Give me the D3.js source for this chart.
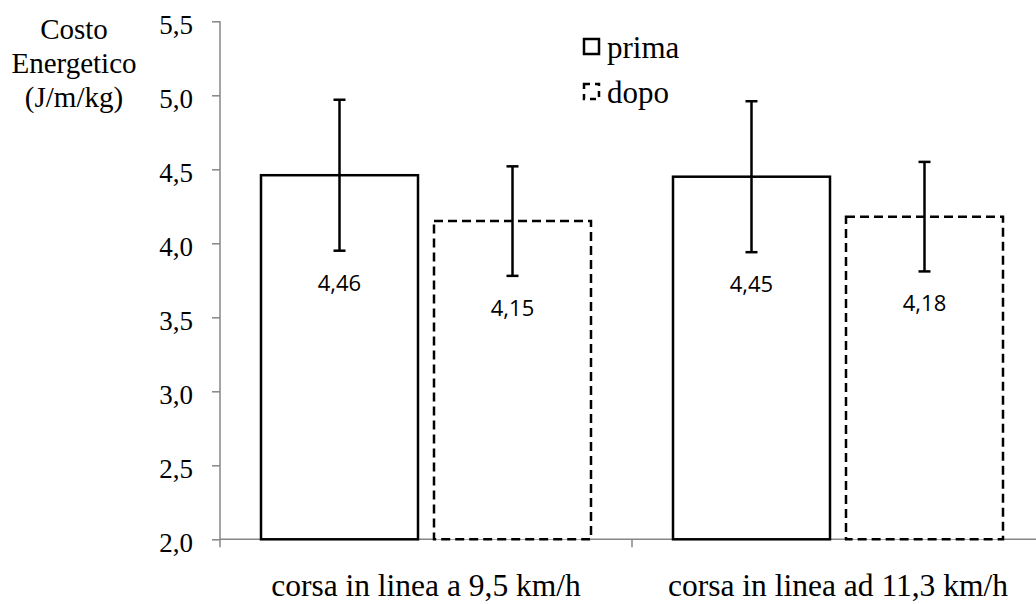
<!DOCTYPE html>
<html>
<head>
<meta charset="utf-8">
<script src="https://cdn.jsdelivr.net/npm/d3@7"></script>
<style>
  html, body { margin: 0; padding: 0; background: #fff; }
  svg { display: block; }
</style>
</head>
<body>
<svg id="chart" width="1036" height="604"></svg>
<script>
// Energy cost of in-line running, before ("prima") and after ("dopo")
const categories = ["corsa in linea a 9,5 km/h", "corsa in linea ad 11,3 km/h"];
const seriesNames = ["prima", "dopo"];
const primaValues = [4.46, 4.45];
const dopoValues = [4.15, 4.18];
const primaErrors = [0.51, 0.51];
const dopoErrors = [0.37, 0.37];
const yTicks = [2.0, 2.5, 3.0, 3.5, 4.0, 4.5, 5.0, 5.5];
const yTitle = ["Costo", "Energetico", "(J/m/kg)"];

const values = [primaValues, dopoValues];
const errors = [primaErrors, dopoErrors];
const rows = [];
categories.forEach((c, ci) => {
  seriesNames.forEach((s, si) => {
    rows.push({ cat: c, series: s, value: values[si][ci], err: errors[si][ci] });
  });
});

const svg = d3.select("#chart");
const serif = "'Liberation Serif', 'Times New Roman', serif";
const sans = "'Open Sans', 'Noto Sans', sans-serif";
const axisColor = "#868686";

const plot = { left: 220, right: 1044, top: 21.3, bottom: 539.3 };

const y = d3.scaleLinear().domain([2.0, 5.5]).range([plot.bottom, plot.top]);
const x0 = d3.scaleBand().domain(categories).range([plot.left, plot.right]).paddingInner(0).paddingOuter(0);
const x1 = d3.scaleBand().domain(seriesNames).range([0, x0.bandwidth()])
  .paddingInner(0.0925).paddingOuter(0.237);

const dashFor = s => s === "dopo" ? "9,5" : null;

// Y axis
const yAxis = d3.axisLeft(y).tickValues(yTicks).tickSize(8).tickSizeOuter(0)
  .tickFormat(d => d3.format(".1f")(d).replace(".", ","));
const gy = svg.append("g").attr("transform", `translate(${plot.left},0)`).call(yAxis);
gy.select(".domain").remove();
gy.append("line").attr("x1", 0).attr("x2", 0).attr("y1", y(5.5)).attr("y2", plot.bottom + 8)
  .attr("stroke", axisColor).attr("stroke-width", 1.5);
gy.selectAll(".tick line").attr("stroke", axisColor).attr("stroke-width", 1.5);
gy.selectAll(".tick text")
  .attr("font-family", serif).attr("font-size", 27).attr("fill", "#000")
  .attr("x", -27).attr("dy", 12);

// X axis (category boundaries as ticks)
svg.append("line").attr("x1", plot.left).attr("x2", plot.right)
  .attr("y1", plot.bottom).attr("y2", plot.bottom)
  .attr("stroke", axisColor).attr("stroke-width", 1.5);
const bounds = categories.map(c => x0(c)).concat([x0(categories[categories.length - 1]) + x0.bandwidth()]);
svg.selectAll(".xtick").data(bounds.slice(1)).enter().append("line")
  .attr("x1", d => d).attr("x2", d => d)
  .attr("y1", plot.bottom).attr("y2", plot.bottom + 8)
  .attr("stroke", axisColor).attr("stroke-width", 1.5);
svg.selectAll(".xlabel").data(categories).enter().append("text")
  .attr("x", d => x0(d) + x0.bandwidth() / 2).attr("y", 596)
  .attr("text-anchor", "middle").attr("font-family", serif).attr("font-size", 31.5)
  .text(d => d);

// Bars
svg.selectAll(".bar").data(rows).enter().append("rect")
  .attr("x", d => x0(d.cat) + x1(d.series))
  .attr("y", d => y(d.value))
  .attr("width", x1.bandwidth())
  .attr("height", d => y(2.0) - y(d.value))
  .attr("fill", "#fff").attr("stroke", "#000").attr("stroke-width", 2.5)
  .attr("stroke-dasharray", d => dashFor(d.series));

// Error bars
const cap = 6;
const eb = svg.selectAll(".err").data(rows).enter().append("g")
  .attr("stroke", "#000").attr("stroke-width", 2.5);
eb.append("line")
  .attr("x1", d => x0(d.cat) + x1(d.series) + x1.bandwidth() / 2)
  .attr("x2", d => x0(d.cat) + x1(d.series) + x1.bandwidth() / 2)
  .attr("y1", d => y(d.value + d.err)).attr("y2", d => y(d.value - d.err));
[1, -1].forEach(sign => {
  eb.append("line")
    .attr("x1", d => x0(d.cat) + x1(d.series) + x1.bandwidth() / 2 - cap)
    .attr("x2", d => x0(d.cat) + x1(d.series) + x1.bandwidth() / 2 + cap)
    .attr("y1", d => y(d.value + sign * d.err)).attr("y2", d => y(d.value + sign * d.err));
});

// Value labels below the lower whisker
svg.selectAll(".val").data(rows).enter().append("text")
  .attr("x", d => x0(d.cat) + x1(d.series) + x1.bandwidth() / 2)
  .attr("y", d => y(d.value - d.err - 0.27))
  .attr("text-anchor", "middle").attr("font-family", sans).attr("font-size", 22)
  .text(d => d3.format(".2f")(d.value).replace(".", ","));

// Y axis title
svg.append("text").attr("font-family", serif).attr("font-size", 29).attr("text-anchor", "middle")
  .selectAll("tspan").data(yTitle).enter().append("tspan")
  .attr("x", 74).attr("y", (d, i) => 39 + i * 34).text(d => d);

// Legend
const legend = svg.selectAll(".leg").data(seriesNames).enter().append("g")
  .attr("transform", (d, i) => `translate(584, ${39 + i * 45})`);
legend.append("rect").attr("width", 15).attr("height", 15)
  .attr("fill", "#fff").attr("stroke", "#000").attr("stroke-width", 2.5)
  .attr("stroke-dasharray", d => d === "dopo" ? "6,5" : null);
legend.append("text").attr("x", 23).attr("y", 19)
  .attr("font-family", serif).attr("font-size", 31).text(d => d);
</script>
</body>
</html>
